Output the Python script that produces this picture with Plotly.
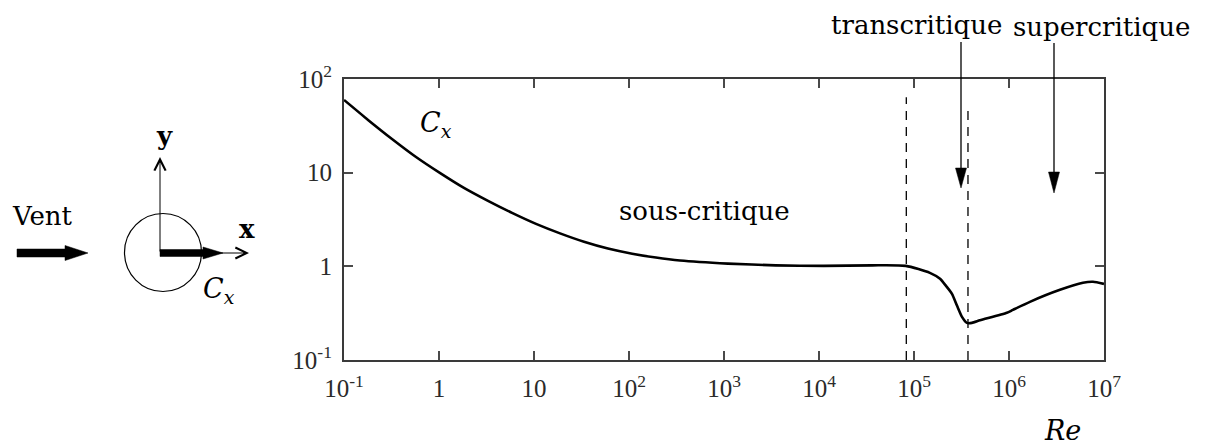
import plotly.graph_objects as go

# Drag coefficient of a circular cylinder versus Reynolds number
re_vals = [0.1, 0.179, 0.32, 0.573, 1.02, 1.83, 3.28, 5.87, 10.5, 18.8, 33.6,
           60, 108, 192, 344, 1100, 3500, 1.12e4, 3.6e4, 8.2e4,
           1.47e5, 1.88e5, 2.17e5, 2.51e5, 2.84e5, 3.2e5, 3.61e5, 4.07e5,
           4.95e5, 9.5e5, 1.1e6, 1.66e6, 3.44e6, 6.0e6, 7.66e6, 1.0e7]
cx_vals = [59.8, 36.6, 22.9, 14.7, 9.95, 6.88, 5.0, 3.72, 2.84, 2.25, 1.83,
           1.55, 1.365, 1.24, 1.153, 1.07, 1.025, 1.012, 1.025, 1.012,
           0.852, 0.736, 0.619, 0.509, 0.379, 0.289, 0.249, 0.249,
           0.265, 0.319, 0.343, 0.418, 0.561, 0.667, 0.684, 0.65]

# Regime boundaries (dashed verticals): Reynolds number and extent of the dash
boundary_re = [8.3e4, 3.7e5]
boundary_top = [64, 51]
boundary_bottom = [0.1, 0.1]

x_tick_vals = [0.1, 1, 10, 100, 1e3, 1e4, 1e5, 1e6, 1e7]
x_tick_text = ["10<sup>-1</sup>", "1", "10", "10<sup>2</sup>", "10<sup>3</sup>",
               "10<sup>4</sup>", "10<sup>5</sup>", "10<sup>6</sup>", "10<sup>7</sup>"]
y_tick_vals = [0.1, 1, 10, 100]
y_tick_text = ["10<sup>-1</sup>", "1", "10", "10<sup>2</sup>"]

W, H = 1209, 446
L, R, T, B = 344, 105, 79, 86
PW, PH = W - L - R, H - T - B


def px(x):
    return (x - L) / PW


def py(y):
    return (H - B - y) / PH


TICK_FONT = "Liberation Serif"
TEXT_FONT = "DejaVu Serif"
TXT = 26

fig = go.Figure()

fig.add_trace(go.Scatter(
    x=re_vals, y=cx_vals, mode="lines",
    line=dict(color="black", width=2.6, shape="spline", smoothing=0.6),
    hoverinfo="skip", showlegend=False,
))

for xb, yt, yb in zip(boundary_re, boundary_top, boundary_bottom):
    fig.add_trace(go.Scatter(
        x=[xb, xb], y=[yb, yt], mode="lines",
        line=dict(color="black", width=1.3, dash="9px,7px"),
        hoverinfo="skip", showlegend=False,
    ))

axis_common = dict(
    type="log", showgrid=False, zeroline=False,
    showline=True, linecolor="#3a3a3a", linewidth=2.2, mirror="ticks",
    ticks="inside", ticklen=9, tickwidth=2.2, tickcolor="#4a4a4a",
    tickfont=dict(family=TICK_FONT, size=25, color="#2a2a2a"),
    ticklabelstandoff=5,
)

fig.update_xaxes(range=[-1, 7], tickvals=x_tick_vals, ticktext=x_tick_text,
                 **axis_common)
fig.update_yaxes(range=[-1, 2], tickvals=y_tick_vals, ticktext=y_tick_text,
                 **axis_common)

shapes = []
annotations = []


def label(text, x, y, size=TXT, family=TEXT_FONT):
    annotations.append(dict(
        text=text, x=px(x), y=py(y), xref="paper", yref="paper",
        xanchor="center", yanchor="middle", showarrow=False,
        font=dict(family=family, size=size, color="black")))


# Region labels and curve label
label("transcritique", 916, 25)
label("supercritique", 1101, 27)
label("sous-critique", 704, 211)
label("<i>C</i><sub><i>x</i></sub>", 436, 124, size=27)
label("<i>Re</i>", 1062, 430, size=27)

# Down arrows pointing at the transcritical and supercritical regions
for xa, y0, yh, yt in [(961, 42, 168, 188), (1054, 43, 172, 193)]:
    shapes.append(dict(type="line", xref="paper", yref="paper",
                       x0=px(xa), x1=px(xa), y0=py(y0), y1=py(yh),
                       line=dict(color="black", width=1.3)))
    shapes.append(dict(
        type="path", xref="paper", yref="paper",
        path=f"M{px(xa - 5.5)},{py(yh)} L{px(xa + 5.5)},{py(yh)} L{px(xa)},{py(yt)} Z",
        fillcolor="black", line=dict(color="black", width=0.5)))

# Sketch of the cylinder in the wind
label("Vent", 42, 216)
shapes.append(dict(
    type="path", xref="paper", yref="paper",
    path=(f"M{px(17)},{py(249)} L{px(65)},{py(249)} L{px(65)},{py(245.5)} "
          f"L{px(88)},{py(253)} L{px(65)},{py(260.5)} L{px(65)},{py(257)} "
          f"L{px(17)},{py(257)} Z"),
    fillcolor="black", line=dict(color="black", width=0.5)))

shapes.append(dict(type="circle", xref="paper", yref="paper",
                   x0=px(124.5), x1=px(201.5), y0=py(291.5), y1=py(213.5),
                   line=dict(color="black", width=1.2)))

# Local axes of the sketch
annotations.append(dict(text="", x=px(160), y=py(157), xref="paper", yref="paper",
                        ax=0, ay=96, showarrow=True, arrowhead=5, arrowsize=2.2,
                        arrowwidth=1.0, arrowcolor="black"))
annotations.append(dict(text="", x=px(249), y=py(253), xref="paper", yref="paper",
                        ax=-89, ay=0, showarrow=True, arrowhead=5, arrowsize=2.2,
                        arrowwidth=1.0, arrowcolor="black"))
label("<b>y</b>", 164, 136, size=26)
label("<b>x</b>", 247, 229, size=26)

# Drag force arrow on the cylinder
shapes.append(dict(
    type="path", xref="paper", yref="paper",
    path=(f"M{px(160)},{py(249.5)} L{px(203)},{py(249.5)} L{px(203)},{py(247)} "
          f"L{px(223)},{py(253)} L{px(203)},{py(259)} L{px(203)},{py(256.5)} "
          f"L{px(160)},{py(256.5)} Z"),
    fillcolor="black", line=dict(color="black", width=0.5)))
label("<i>C</i><sub><i>x</i></sub>", 219, 290, size=27)

fig.update_layout(
    width=W, height=H,
    margin=dict(l=L, r=R, t=T, b=B, pad=0),
    paper_bgcolor="white", plot_bgcolor="white",
    shapes=shapes, annotations=annotations,
    showlegend=False,
)

fig.write_html("out.html")
